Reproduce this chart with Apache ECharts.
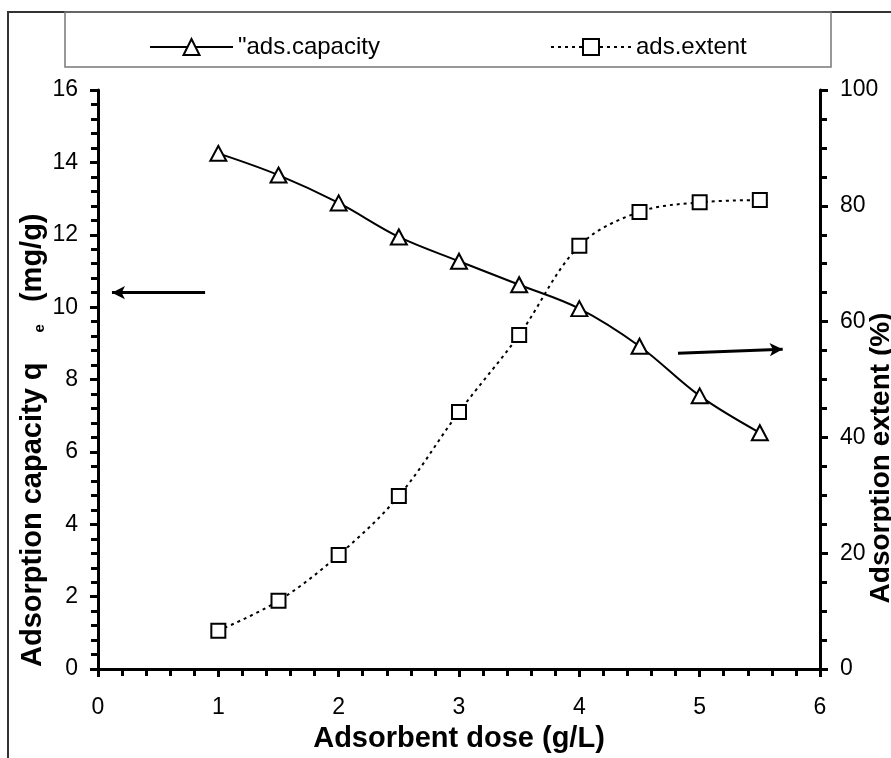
<!DOCTYPE html>
<html>
<head>
<meta charset="utf-8">
<script src="https://cdn.jsdelivr.net/npm/echarts@6/dist/echarts.min.js"></script>
<style>
  html, body { margin: 0; padding: 0; background: #fff; }
  #chart { width: 891px; height: 758px; }
</style>
</head>
<body>
<div id="chart"></div>
<script>
// Adsorbent dose (g/L)
const doses = [1, 1.5, 2, 2.5, 3, 3.5, 4, 4.5, 5, 5.5];
// Adsorption capacity q_e (mg/g), left axis
const capacity = [14.25, 13.65, 12.88, 11.94, 11.27, 10.62, 9.96, 8.92, 7.55, 6.53];
// Adsorption extent (%), right axis
const extent = [6.64, 11.8, 19.7, 29.9, 44.4, 57.7, 73.1, 78.95, 80.6, 81.0];

const seriesNames = ['"ads.capacity', 'ads.extent'];
const xTitle = 'Adsorbent dose (g/L)';
const rightTitle = 'Adsorption extent (%)';

// arrows pointing each curve to its axis (in left-axis data units)
const leftArrow = [[0.89, 10.4], [0.116, 10.4]];
const rightArrow = [[4.82, 8.73], [5.69, 8.84]];

const FONT = '"Liberation Sans", Arial, sans-serif';
const chart = echarts.init(document.getElementById('chart'), null, { renderer: 'canvas' });

const axisCommon = {
  axisLine: { show: true, onZero: false, lineStyle: { color: '#000', width: 3 } },
  axisTick: { show: true, inside: false, length: 8, lineStyle: { color: '#000', width: 3 } },
  minorTick: { show: true, length: 7, lineStyle: { color: '#000', width: 3 } },
  splitLine: { show: false },
  minorSplitLine: { show: false },
  axisLabel: { color: '#000', fontFamily: FONT, fontSize: 23 }
};

const pairs = (xs, ys) => xs.map((x, i) => [x, ys[i]]);

chart.setOption({
  animation: false,
  backgroundColor: '#fff',
  grid: { left: 98, right: 71, top: 90, bottom: 85, containLabel: false },
  legend: [
    {
      data: [seriesNames[0]], left: 144, top: 30,
      itemWidth: 83, itemHeight: 20,
      textStyle: { color: '#000', fontFamily: FONT, fontSize: 24 }
    },
    {
      data: [seriesNames[1]], left: 545, top: 30,
      itemWidth: 80, itemHeight: 20,
      textStyle: { color: '#000', fontFamily: FONT, fontSize: 24 }
    }
  ],
  xAxis: Object.assign({}, axisCommon, {
    type: 'value', min: 0, max: 6, interval: 1,
    minorTick: Object.assign({}, axisCommon.minorTick, { splitNumber: 5 }),
    axisLabel: Object.assign({}, axisCommon.axisLabel, { margin: 27 }),
    name: xTitle, nameLocation: 'middle', nameGap: 43,
    nameTextStyle: { color: '#000', fontFamily: FONT, fontSize: 29, fontWeight: 'bold' }
  }),
  yAxis: [
    Object.assign({}, axisCommon, {
      type: 'value', min: 0, max: 16, interval: 2, position: 'left',
      minorTick: Object.assign({}, axisCommon.minorTick, { splitNumber: 5 }),
      axisLabel: Object.assign({}, axisCommon.axisLabel, { margin: 20 })
    }),
    Object.assign({}, axisCommon, {
      type: 'value', min: 0, max: 100, interval: 20, position: 'right',
      minorTick: Object.assign({}, axisCommon.minorTick, { splitNumber: 4 }),
      axisLabel: Object.assign({}, axisCommon.axisLabel, { margin: 20 })
    })
  ],
  graphic: [
    // outer frame
    { type: 'polyline', shape: { points: [[8, 758], [8, 12], [891, 12]] },
      style: { stroke: '#333', lineWidth: 2, fill: null }, silent: true },
    // legend frame
    { type: 'rect', shape: { x: 65, y: 12, width: 766, height: 55 },
      style: { stroke: '#777', lineWidth: 1.5, fill: null }, silent: true },
    // left axis title with subscript e
    { type: 'text', x: 33, y: 667, rotation: Math.PI / 2, silent: true,
      style: {
        text: '{b|Adsorption capacity q}{s|e}{b| (mg/g)}',
        align: 'left', verticalAlign: 'middle',
        rich: {
          b: { fontFamily: FONT, fontSize: 29, fontWeight: 'bold', fill: '#000' },
          s: { fontFamily: FONT, fontSize: 15, fontWeight: 'bold', fill: '#000', verticalAlign: 'bottom', padding: [11, 14, 0, 30] }
        }
      } },
    // right axis title
    { type: 'text', x: 881, y: 458, rotation: Math.PI / 2, silent: true,
      style: {
        text: rightTitle, align: 'center', verticalAlign: 'middle',
        fontFamily: FONT, fontSize: 28, fontWeight: 'bold', fill: '#000'
      } }
  ],
  series: [
    {
      name: seriesNames[0], type: 'line', yAxisIndex: 0,
      data: pairs(doses, capacity),
      smooth: 0.35,
      symbol: 'triangle', symbolSize: [16, 15],
      itemStyle: { color: '#fff', borderColor: '#000', borderWidth: 2 },
      lineStyle: { color: '#000', width: 2, type: 'solid' },
      emphasis: { disabled: true },
      z: 3,
      markLine: {
        silent: true, animation: false,
        symbol: ['none', 'arrow'], symbolSize: [10, 13],
        label: { show: false },
        lineStyle: { color: '#000', width: 3, type: 'solid' },
        emphasis: { disabled: true },
        data: [
          [{ coord: leftArrow[0] }, { coord: leftArrow[1] }],
          [{ coord: rightArrow[0] }, { coord: rightArrow[1] }]
        ]
      }
    },
    {
      name: seriesNames[1], type: 'line', yAxisIndex: 1,
      data: pairs(doses, extent),
      smooth: 0.35,
      symbol: 'rect', symbolSize: 14,
      itemStyle: { color: '#fff', borderColor: '#000', borderWidth: 2 },
      lineStyle: { color: '#000', width: 2, type: [3, 4] },
      emphasis: { disabled: true },
      z: 2
    }
  ]
});
</script>
</body>
</html>
